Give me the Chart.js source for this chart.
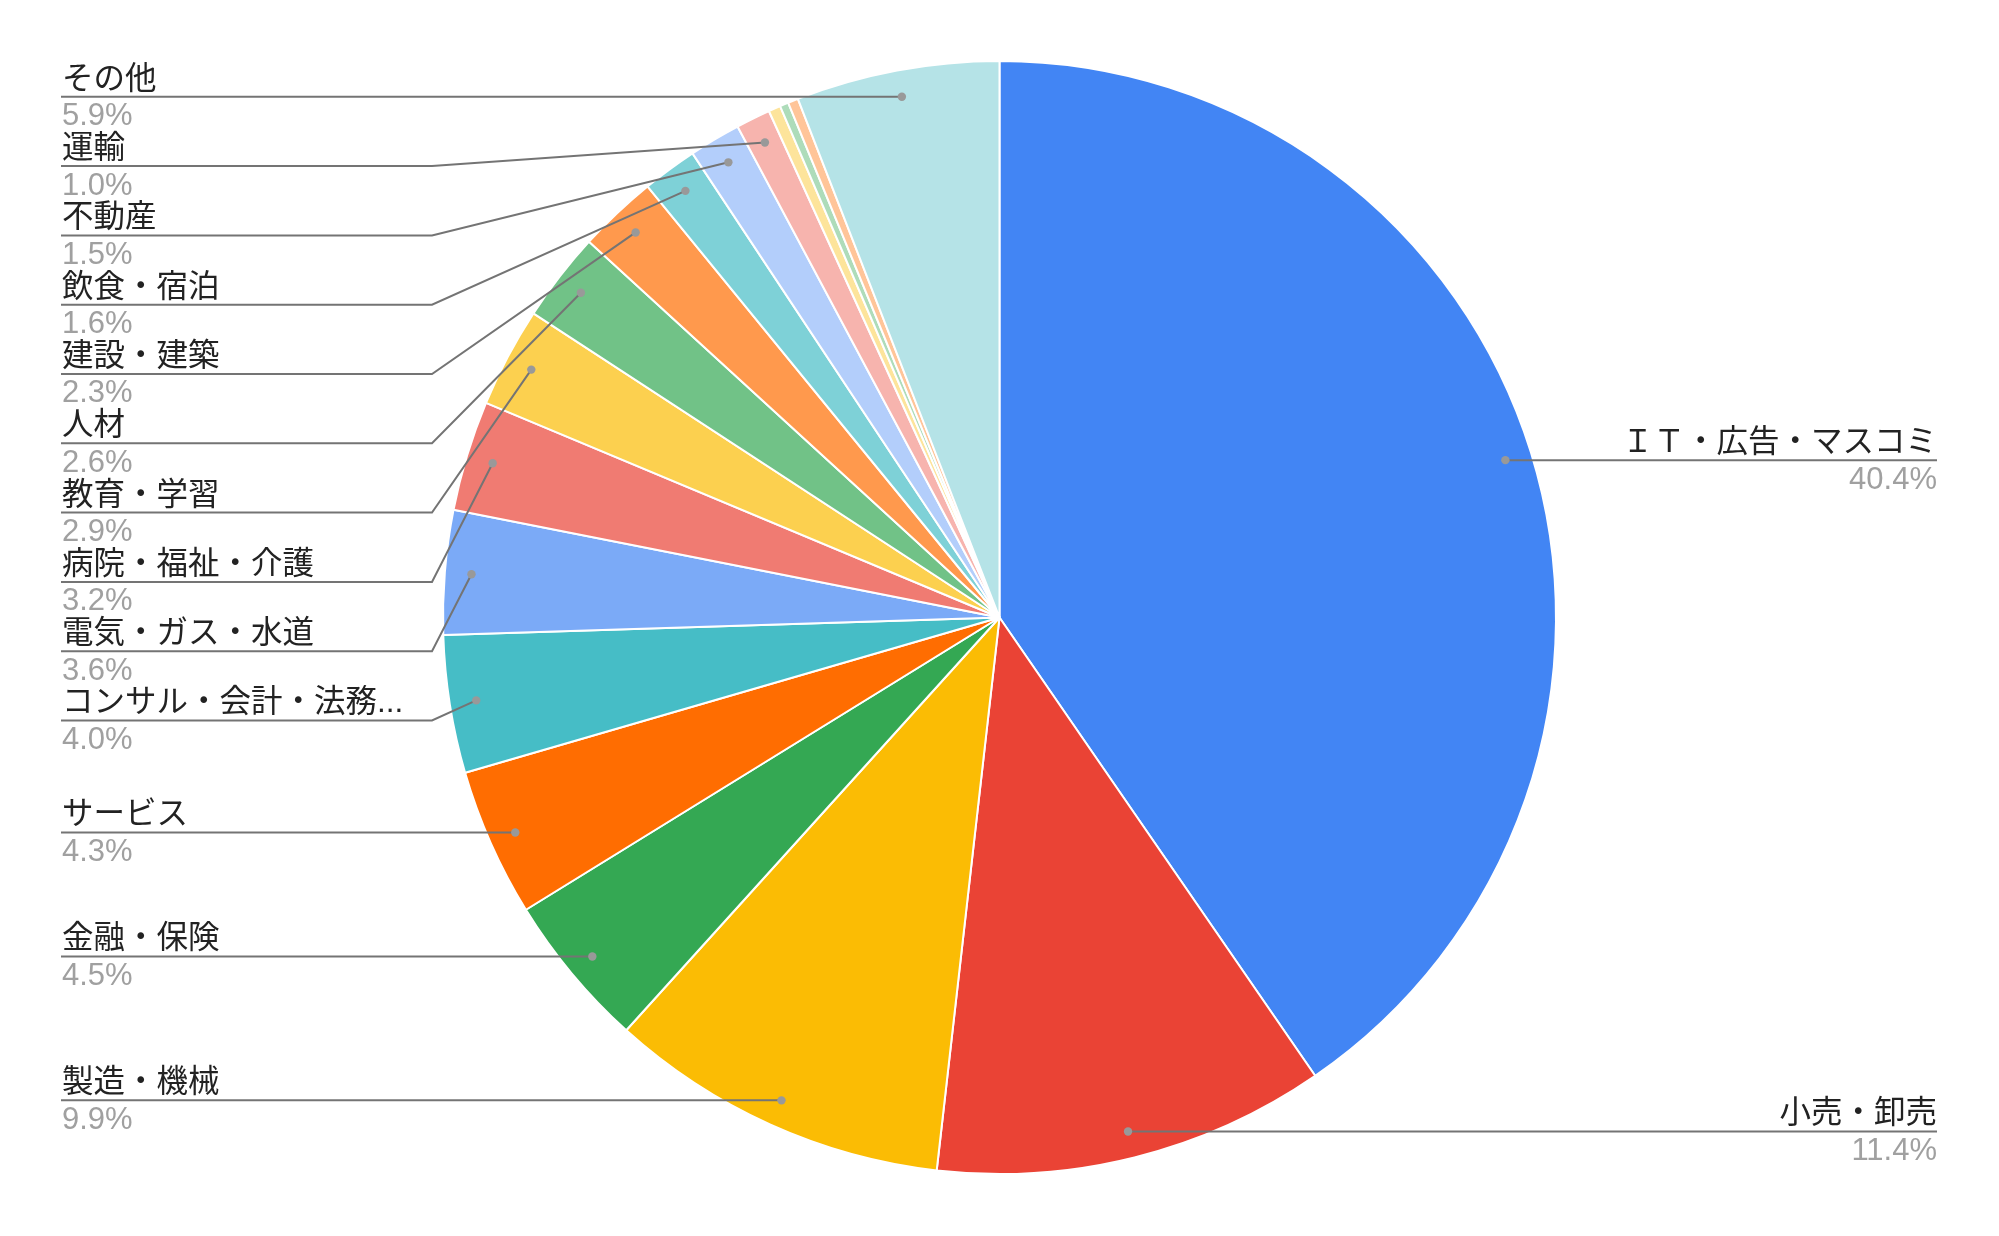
<!DOCTYPE html>
<html>
<head>
<meta charset="utf-8">
<script src="https://cdn.jsdelivr.net/npm/chart.js@4/dist/chart.umd.min.js"></script>
<style>
  body { margin: 0; background: #fff; }
</style>
</head>
<body>
<canvas id="pie" width="1999" height="1236"></canvas>
<script>
// 業種別の割合 (%)
var categories = [
    'ＩＴ・広告・マスコミ', '小売・卸売', '製造・機械', '金融・保険', 'サービス',
    'コンサル・会計・法務...', '電気・ガス・水道', '病院・福祉・介護', '教育・学習', '人材',
    '建設・建築', '飲食・宿泊', '不動産', '運輸', '', '', '', 'その他'
];
var shares = [40.4, 11.4, 9.9, 4.5, 4.3, 4.0, 3.6, 3.2, 2.9, 2.6, 2.3, 1.6, 1.5, 1.0, 0.35, 0.25, 0.3, 5.9];
var colors = [
    '#4285f4', '#ea4335', '#fbbc04', '#34a853', '#ff6d01',
    '#46bdc6', '#7baaf7', '#f07b72', '#fcd04f', '#71c287',
    '#ff994d', '#7ed1d7', '#b3cefb', '#f7b4ae', '#fde49b',
    '#aedcba', '#ffc599', '#b5e3e7'
];

var NAME_FONT = '31.5px "Liberation Sans", "Noto Sans CJK JP", sans-serif';
var PCT_FONT = '31px "Liberation Sans", "Noto Sans CJK JP", sans-serif';

// google sheets 風の引き出し線ラベル
var sideLabels = {
    id: 'sideLabels',
    afterDraw: function (chart) {
        var ctx = chart.ctx;
        var meta = chart.getDatasetMeta(0);
        var data = chart.data.datasets[0].data;
        var total = data.reduce(function (a, b) { return a + b; }, 0);
        var leftX = 61, rightX = 1937, kneeL = 432, kneeR = 1567, gap = 69.3;
        var left = [], right = [];

        meta.data.forEach(function (arc, i) {
            if (data[i] < 0.5) return;
            var mid = (arc.startAngle + arc.endAngle) / 2;
            var r = arc.outerRadius * 0.952;
            var item = {
                i: i,
                dx: arc.x + Math.cos(mid) * r,
                dy: arc.y + Math.sin(mid) * r
            };
            (Math.cos(mid) >= 0 ? right : left).push(item);
        });

        function stack(list) {
            list.sort(function (a, b) { return a.dy - b.dy; });
            var prev = -1e9;
            list.forEach(function (it) {
                it.ly = Math.max(it.dy, prev + gap);
                prev = it.ly;
            });
        }
        stack(left);
        stack(right);

        ctx.save();
        ctx.lineWidth = 2;
        ctx.strokeStyle = '#747474';

        function draw(it, isLeft) {
            ctx.beginPath();
            if (isLeft) {
                ctx.moveTo(leftX, it.ly);
                if (Math.abs(it.ly - it.dy) > 0.5) {
                    ctx.lineTo(kneeL, it.ly);
                }
                ctx.lineTo(it.dx, it.dy);
            } else {
                ctx.moveTo(rightX, it.ly);
                if (Math.abs(it.ly - it.dy) > 0.5) {
                    ctx.lineTo(kneeR, it.ly);
                }
                ctx.lineTo(it.dx, it.dy);
            }
            ctx.stroke();

            ctx.beginPath();
            ctx.fillStyle = '#999999';
            ctx.arc(it.dx, it.dy, 4.2, 0, Math.PI * 2);
            ctx.fill();

            ctx.textBaseline = 'alphabetic';
            ctx.textAlign = isLeft ? 'left' : 'right';
            var tx = isLeft ? leftX + 1 : rightX;
            ctx.font = NAME_FONT;
            ctx.fillStyle = '#222222';
            ctx.fillText(chart.data.labels[it.i], tx, it.ly - 8);
            ctx.font = PCT_FONT;
            ctx.fillStyle = '#a0a0a0';
            ctx.fillText((data[it.i] / total * 100).toFixed(1) + '%', tx, it.ly + 28.5);
        }

        left.forEach(function (it) { draw(it, true); });
        right.forEach(function (it) { draw(it, false); });
        ctx.restore();
    }
};

new Chart(document.getElementById('pie'), {
    type: 'pie',
    data: {
        labels: categories,
        datasets: [{
            data: shares,
            backgroundColor: colors,
            borderColor: '#ffffff',
            borderWidth: 2
        }]
    },
    options: {
        responsive: false,
        animation: false,
        layout: {
            padding: { top: 60, bottom: 61, left: 0, right: 0 }
        },
        plugins: {
            legend: { display: false },
            tooltip: { enabled: false }
        }
    },
    plugins: [sideLabels]
});
</script>
</body>
</html>
